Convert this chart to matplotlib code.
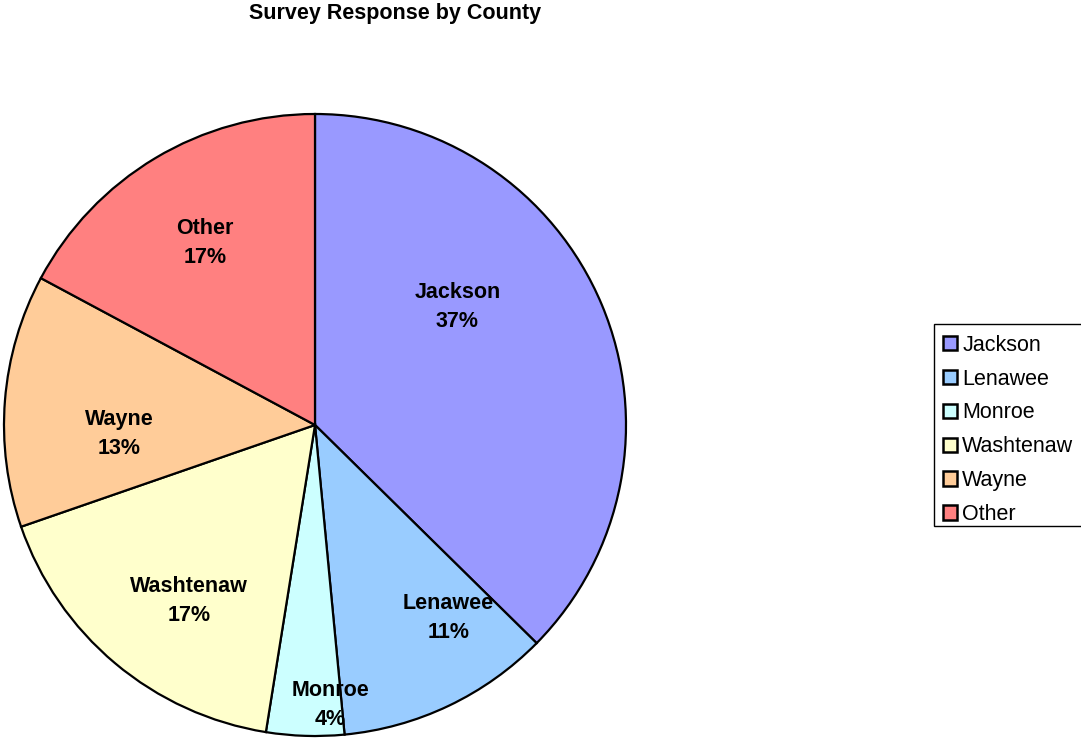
import matplotlib
matplotlib.use("Agg")
import matplotlib.pyplot as plt
from matplotlib.patches import Rectangle
import numpy as np

plt.rcParams['font.family'] = ['Liberation Sans', 'DejaVu Sans']

# Survey responses by county, in percent
counties = ["Jackson", "Lenawee", "Monroe", "Washtenaw", "Wayne", "Other"]
percent = [37, 11, 4, 17, 13, 17]
colors = ["#9999FF", "#99CCFF", "#CCFFFF", "#FFFFCC", "#FFCC99", "#FF8080"]

# label placement: radius fraction and angular nudge (degrees, CCW)
label_radius = [0.60, 0.75, 0.895, 0.69, 0.63, 0.69]
label_nudge = [17.5, 9.5, 5.0, 4.0, 6.5, 0.0]

W, H = 1081, 738
fig = plt.figure(figsize=(W / 100, H / 100), dpi=100)

cx, cy, r = 315, 425, 311
ax = fig.add_axes([(cx - r) / W, (H - cy - r) / H, 2 * r / W, 2 * r / H])
wedges, _ = ax.pie(percent, colors=colors, startangle=90, counterclock=False,
                   radius=1.0,
                   wedgeprops=dict(edgecolor="black", linewidth=1.6))
ax.set_xlim(-1, 1)
ax.set_ylim(-1, 1)
ax.set_aspect("auto")
ax.axis("off")
for w in wedges:
    w.set_clip_on(False)

for w, name, p, rf, dn in zip(wedges, counties, percent, label_radius, label_nudge):
    mid = np.deg2rad((w.theta1 + w.theta2) / 2 + dn)
    ax.text(rf * np.cos(mid), rf * np.sin(mid) - 0.007, f"{name}\n{p}%",
            ha="center", va="center", fontsize=15.5, fontweight="bold",
            linespacing=1.5)

fig.text(395 / W, 1 - 14 / H, "Survey Response by County", ha="center",
         va="center", fontsize=15.5, fontweight="bold")

# legend box (runs off the right edge of the canvas)
fig.patches.append(Rectangle((934 / W, 1 - 526 / H), 160 / W, 202 / H,
                             transform=fig.transFigure, facecolor="white",
                             edgecolor="black", linewidth=1.0, zorder=0))

leg = fig.legend(wedges, counties, loc="upper left",
                 bbox_to_anchor=(931 / W, 1 - 323 / H),
                 fontsize=15.5, frameon=False,
                 handlelength=0.65, handleheight=0.65, handletextpad=0.25,
                 labelspacing=0.595, borderpad=0.55, borderaxespad=0)
for h in leg.legend_handles:
    h.set_linewidth(1.8)

fig.savefig("out.png", dpi=100)
